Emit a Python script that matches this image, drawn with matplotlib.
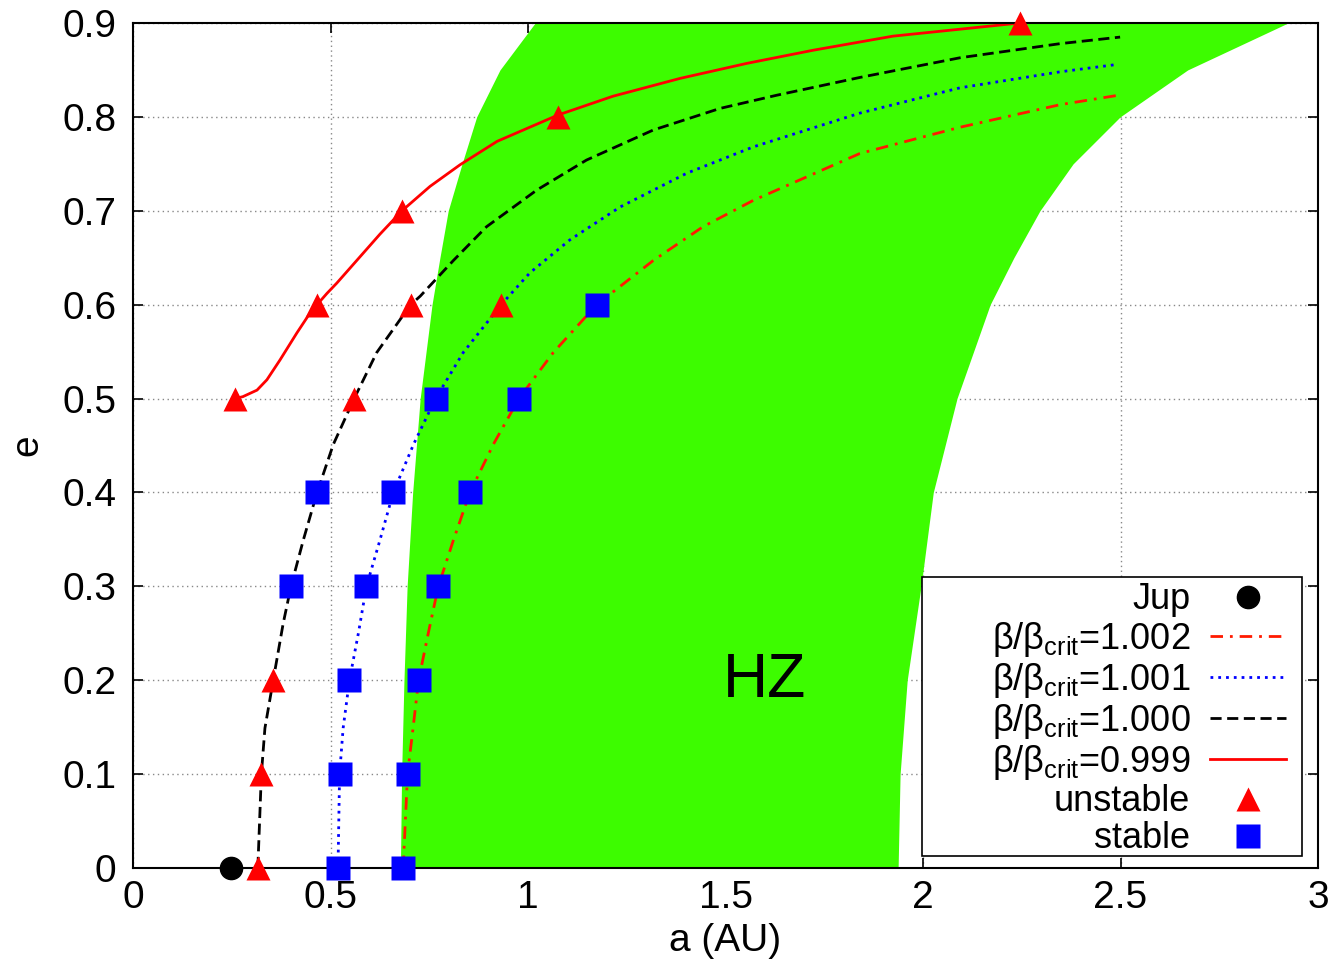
import matplotlib
matplotlib.use("Agg")
import matplotlib.pyplot as plt
from matplotlib.patches import Rectangle

plt.rcParams['font.family'] = ['Liberation Sans', 'DejaVu Sans']
plt.rcParams['mathtext.fontset'] = 'custom'
plt.rcParams['mathtext.rm'] = 'Liberation Sans'
plt.rcParams['mathtext.it'] = 'Liberation Sans:italic'

# habitable zone boundaries (inner / outer a for given e)
hz_e = [0.0, 0.1, 0.2, 0.3, 0.4, 0.5, 0.6, 0.65, 0.7, 0.75, 0.8, 0.85, 0.9]
hz_in = [0.677, 0.680, 0.686, 0.694, 0.708, 0.727, 0.757, 0.777, 0.798, 0.833, 0.870, 0.929, 1.018]
hz_out = [1.937, 1.942, 1.960, 1.995, 2.026, 2.086, 2.170, 2.230, 2.296, 2.380, 2.499, 2.670, 2.924]

# beta/beta_crit curves
c1002_a = [0.684, 0.695, 0.709, 0.723, 0.748, 0.773, 0.811, 0.853, 0.912, 0.977, 1.064, 1.174,
           1.317, 1.443, 1.570, 1.840, 2.094, 2.347, 2.494]
c1002_e = [0.0, 0.1, 0.149, 0.2, 0.251, 0.3, 0.349, 0.4, 0.451, 0.5, 0.549, 0.6,
           0.647, 0.683, 0.711, 0.761, 0.789, 0.813, 0.823]

c1001_a = [0.519, 0.523, 0.532, 0.548, 0.571, 0.591, 0.625, 0.659, 0.710, 0.766, 0.836, 0.932,
           1.005, 1.106, 1.233, 1.402, 1.570, 1.840, 2.094, 2.347, 2.494]
c1001_e = [0.0, 0.1, 0.149, 0.2, 0.251, 0.3, 0.349, 0.4, 0.451, 0.5, 0.549, 0.6,
           0.634, 0.669, 0.704, 0.740, 0.768, 0.804, 0.831, 0.848, 0.856]

c1000_a = [0.316, 0.325, 0.334, 0.355, 0.380, 0.400, 0.431, 0.466, 0.507, 0.560, 0.617, 0.703,
           0.727, 0.811, 0.895, 1.022, 1.148, 1.317, 1.486, 1.629, 1.840, 2.094, 2.347, 2.499]
c1000_e = [0.0, 0.1, 0.149, 0.2, 0.26, 0.3, 0.349, 0.4, 0.451, 0.5, 0.549, 0.6,
           0.609, 0.647, 0.683, 0.722, 0.754, 0.786, 0.809, 0.823, 0.842, 0.863, 0.878, 0.885]

c0999_a = [0.258, 0.278, 0.314, 0.339, 0.372, 0.415, 0.448, 0.466, 0.491, 0.516, 0.625, 0.681,
           0.752, 0.828, 0.922, 1.076, 1.215, 1.385, 1.554, 1.722, 1.924, 2.245]
c0999_e = [0.5, 0.502, 0.509, 0.520, 0.541, 0.570, 0.591, 0.6, 0.612, 0.623, 0.675, 0.7,
           0.726, 0.749, 0.774, 0.802, 0.822, 0.841, 0.857, 0.871, 0.886, 0.9]

# simulated orbits
jup_a = [0.248]
jup_e = [0.0]
unstable_a = [0.316, 0.325, 0.355, 0.560, 0.703, 0.932, 0.258, 0.466, 0.681, 1.076, 2.245]
unstable_e = [0.0, 0.1, 0.2, 0.5, 0.6, 0.6, 0.5, 0.6, 0.7, 0.8, 0.9]
stable_a = [0.400, 0.466, 0.519, 0.523, 0.548, 0.591, 0.659, 0.766,
            0.684, 0.695, 0.723, 0.773, 0.853, 0.977, 1.174]
stable_e = [0.3, 0.4, 0.0, 0.1, 0.2, 0.3, 0.4, 0.5,
            0.0, 0.1, 0.2, 0.3, 0.4, 0.5, 0.6]

fig = plt.figure(figsize=(13.36, 9.61), dpi=100)
ax = fig.add_axes([133/1336, 93/961, 1185/1336, 845/961])

green = '#3dfc00'
ax.fill_betweenx(hz_e, hz_in, hz_out, color=green, lw=0, zorder=1)
ax.text(1.6, 0.2, 'HZ', fontsize=45, ha='center', va='center', zorder=2)

lw = 2
l1, = ax.plot(c1002_a, c1002_e, color='#ff1a00', lw=lw, ls=(0, (4.5, 2.5, 1, 2.5)), zorder=2,
              label=r'β/β$_{\mathrm{crit}}$=1.002')
l2, = ax.plot(c1001_a, c1001_e, color='#0000ff', lw=lw, ls=(0, (1, 1.8)), zorder=2,
              label=r'β/β$_{\mathrm{crit}}$=1.001')
l3, = ax.plot(c1000_a, c1000_e, color='black', lw=lw, ls=(0, (4, 2)), zorder=2,
              label=r'β/β$_{\mathrm{crit}}$=1.000')
l4, = ax.plot(c0999_a, c0999_e, color='#ff0000', lw=lw, zorder=2,
              label=r'β/β$_{\mathrm{crit}}$=0.999')

p0, = ax.plot(jup_a, jup_e, 'o', color='black', ms=16, zorder=4, clip_on=False, label='Jup')
p1, = ax.plot(unstable_a, unstable_e, '^', color='#ff0000', ms=17, mec='none',
              zorder=4, clip_on=False, label='unstable')
p2, = ax.plot(stable_a, stable_e, 's', color='#0000ff', ms=17, mec='none',
              zorder=4, clip_on=False, label='stable')

ax.set_xlim(0, 3)
ax.set_ylim(0, 0.9)
ax.set_xticks([0, 0.5, 1, 1.5, 2, 2.5, 3])
ax.set_xticklabels(['0', '0.5', '1', '1.5', '2', '2.5', '3'])
ax.set_yticks([0, 0.1, 0.2, 0.3, 0.4, 0.5, 0.6, 0.7, 0.8, 0.9])
ax.set_yticklabels(['0', '0.1', '0.2', '0.3', '0.4', '0.5', '0.6', '0.7', '0.8', '0.9'])
ax.tick_params(direction='in', length=7, width=1.2, top=True, right=True, labelsize=28)
ax.tick_params(axis='x', pad=9)
ax.tick_params(axis='y', pad=12)
ax.grid(True, color='#888888', lw=1, ls=(0, (1, 2.5)))
ax.set_axisbelow(True)
for s in ax.spines.values():
    s.set_linewidth(1.5)

ax.set_xlabel('a (AU)', fontsize=28, labelpad=5)
ax.set_ylabel('e', fontsize=28, labelpad=12)

# legend box
ax.add_patch(Rectangle((0.666, 0.0142), 0.3205, 0.3302, transform=ax.transAxes,
                       facecolor='white', edgecolor='black', lw=1.2, zorder=5))
leg = ax.legend(handles=[p0, l1, l2, l3, l4, p1, p2], loc='upper right',
                bbox_to_anchor=(0.973, 0.338), frameon=False, markerfirst=False,
                fontsize=26, numpoints=1, handlelength=2.1, handletextpad=0.55,
                labelspacing=0.06, borderpad=0, borderaxespad=0)
leg.set_zorder(6)

fig.savefig('out.png', dpi=100)
